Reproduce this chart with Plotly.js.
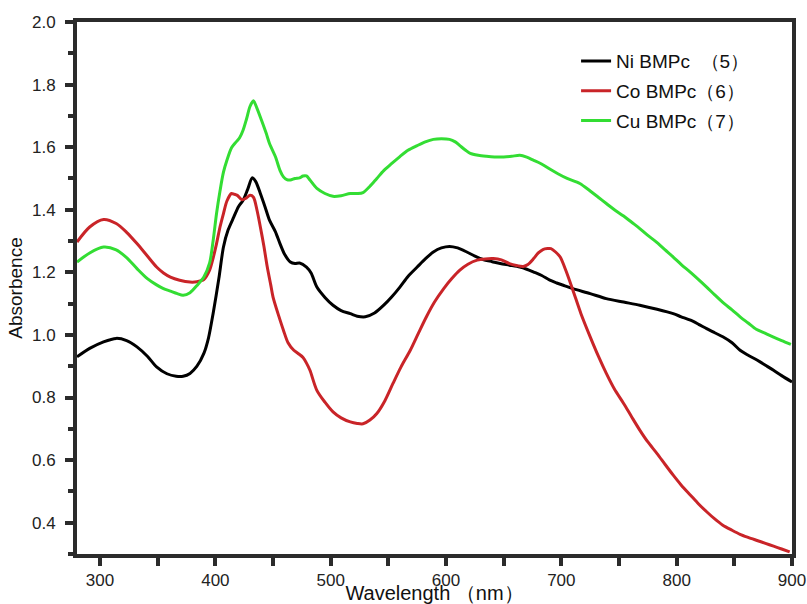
<!DOCTYPE html>
<html>
<head>
<meta charset="utf-8">
<script src="https://cdn.plot.ly/plotly-3.0.1.min.js"></script>
<style>
html,body{margin:0;padding:0;background:#fff;}
#chart{width:807px;height:604px;}
</style>
</head>
<body>
<div id="chart"></div>
<script>
// Wavelength (nm) and absorbance
const niX = [280, 291, 303, 314, 323, 332, 341, 349, 358, 366, 372, 378, 384, 390, 394, 398, 403, 407, 411, 416, 420, 424, 428, 432, 435, 439, 443, 447, 452, 456, 460, 465, 469, 473, 479, 483, 488, 495, 502, 509, 517, 523, 530, 538, 546, 553, 560, 567, 575, 582, 589, 596, 603, 610, 618, 625, 632, 640, 647, 655, 664, 670, 676, 683, 690, 696, 703, 710, 725, 739, 754, 768, 783, 797, 804, 812, 819, 826, 833, 840, 848, 855, 862, 870, 877, 884, 891, 900];
const niY = [0.930, 0.957, 0.978, 0.989, 0.982, 0.962, 0.932, 0.898, 0.876, 0.868, 0.868, 0.877, 0.900, 0.941, 0.990, 1.068, 1.180, 1.281, 1.335, 1.377, 1.410, 1.430, 1.465, 1.502, 1.490, 1.452, 1.410, 1.366, 1.330, 1.292, 1.258, 1.233, 1.228, 1.230, 1.217, 1.198, 1.153, 1.120, 1.095, 1.078, 1.068, 1.060, 1.058, 1.070, 1.095, 1.122, 1.153, 1.187, 1.217, 1.243, 1.265, 1.278, 1.283, 1.278, 1.265, 1.252, 1.241, 1.234, 1.228, 1.223, 1.217, 1.210, 1.201, 1.190, 1.175, 1.166, 1.157, 1.148, 1.132, 1.116, 1.105, 1.095, 1.082, 1.068, 1.058, 1.047, 1.034, 1.020, 1.007, 0.994, 0.975, 0.951, 0.935, 0.919, 0.903, 0.887, 0.870, 0.850];

const coX = [280, 291, 303, 314, 323, 332, 341, 349, 355, 361, 369, 378, 384, 390, 395, 398, 401, 404, 407, 410, 414, 416, 419, 423, 427, 430, 433, 436, 439, 442, 445, 448, 450, 455, 459, 463, 468, 472, 476, 479, 482, 488, 495, 502, 509, 517, 523, 528, 534, 540, 547, 554, 561, 569, 576, 583, 590, 598, 605, 612, 619, 627, 634, 641, 648, 655, 661, 667, 671, 676, 680, 684, 688, 691, 695, 699, 704, 710, 717, 725, 732, 739, 746, 754, 761, 768, 775, 783, 790, 797, 804, 812, 819, 826, 833, 840, 848, 855, 862, 869, 877, 884, 891, 898];
const coY = [1.297, 1.345, 1.369, 1.356, 1.328, 1.292, 1.252, 1.217, 1.198, 1.185, 1.175, 1.169, 1.170, 1.177, 1.207, 1.245, 1.292, 1.345, 1.388, 1.428, 1.452, 1.450, 1.446, 1.432, 1.438, 1.446, 1.440, 1.400, 1.345, 1.285, 1.217, 1.160, 1.121, 1.060, 1.015, 0.975, 0.951, 0.940, 0.928, 0.910, 0.887, 0.823, 0.785, 0.754, 0.735, 0.722, 0.717, 0.716, 0.728, 0.749, 0.790, 0.845, 0.898, 0.951, 1.005, 1.058, 1.105, 1.148, 1.180, 1.207, 1.226, 1.239, 1.243, 1.244, 1.240, 1.228, 1.222, 1.219, 1.225, 1.244, 1.262, 1.273, 1.276, 1.276, 1.265, 1.249, 1.205, 1.143, 1.068, 0.994, 0.933, 0.877, 0.827, 0.781, 0.738, 0.696, 0.658, 0.621, 0.586, 0.552, 0.520, 0.488, 0.460, 0.435, 0.412, 0.392, 0.376, 0.363, 0.353, 0.344, 0.334, 0.325, 0.316, 0.307];

const cuX = [280, 291, 303, 314, 323, 332, 341, 349, 355, 361, 367, 372, 378, 384, 390, 395, 398, 401, 404, 407, 410, 414, 418, 421, 424, 427, 430, 433, 436, 440, 444, 447, 452, 456, 459, 462, 465, 469, 473, 476, 479, 482, 488, 495, 502, 509, 517, 523, 528, 534, 540, 546, 553, 560, 567, 575, 582, 589, 596, 603, 608, 612, 617, 621, 628, 635, 642, 650, 657, 664, 670, 676, 682, 690, 697, 705, 716, 725, 732, 739, 746, 754, 761, 768, 775, 783, 790, 797, 804, 812, 819, 826, 833, 840, 848, 855, 862, 869, 877, 884, 891, 899];
const cuY = [1.233, 1.262, 1.281, 1.272, 1.247, 1.212, 1.180, 1.160, 1.148, 1.140, 1.132, 1.127, 1.135, 1.158, 1.185, 1.230, 1.300, 1.388, 1.460, 1.520, 1.558, 1.598, 1.617, 1.630, 1.654, 1.690, 1.730, 1.748, 1.725, 1.686, 1.645, 1.611, 1.570, 1.526, 1.505, 1.496, 1.495, 1.500, 1.502, 1.508, 1.508, 1.495, 1.468, 1.452, 1.443, 1.445, 1.452, 1.452, 1.455, 1.475, 1.500, 1.525, 1.548, 1.570, 1.590, 1.605, 1.617, 1.625, 1.627, 1.625, 1.617, 1.605, 1.590, 1.580, 1.574, 1.571, 1.569, 1.569, 1.571, 1.574, 1.568, 1.558, 1.548, 1.530, 1.515, 1.500, 1.484, 1.460, 1.440, 1.420, 1.400, 1.380, 1.360, 1.340, 1.318, 1.295, 1.272, 1.249, 1.225, 1.200, 1.177, 1.153, 1.128, 1.104, 1.080, 1.058, 1.038, 1.018, 1.005, 0.993, 0.982, 0.970];

const seriesNames = ['Ni BMPc \u00a0\uff085\uff09', 'Co BMPc\uff086\uff09', 'Cu BMPc\uff087\uff09'];
const seriesColors = ['#000000', '#c92428', '#33dd33'];

// x tick positions (major labelled, minor blank)
const xTickVals = [300, 350, 400, 450, 500, 550, 600, 650, 700, 750, 800, 850, 900];
const xTickText = ['300', '', '400', '', '500', '', '600', '', '700', '', '800', '', '900'];

const xTitle = 'Wavelength \uff08nm\uff09';
const yTitle = 'Absorbence';

const FONT = 'Arial, "Liberation Sans", sans-serif';
const AXC = '#2b2b2b';

const traces = [
  {x: niX, y: niY, name: seriesNames[0], color: seriesColors[0], g: 'a'},
  {x: coX, y: coY, name: seriesNames[1], color: seriesColors[1], g: 'b'},
  {x: cuX, y: cuY, name: seriesNames[2], color: seriesColors[2], g: 'c'}
].map(s => ({
  x: s.x, y: s.y, name: s.name, type: 'scatter', mode: 'lines', legendgroup: s.g,
  line: {color: s.color, width: 3, shape: 'spline', smoothing: 0.8}
}));

const layout = {
  width: 807, height: 604,
  margin: {l: 77, r: 15, t: 22, b: 50},
  paper_bgcolor: '#ffffff', plot_bgcolor: '#ffffff',
  showlegend: true,
  legend: {
    x: 0.698, y: 0.962, xanchor: 'left', yanchor: 'top',
    bgcolor: 'rgba(0,0,0,0)', borderwidth: 0,
    font: {family: FONT, size: 19, color: '#111111'},
    traceorder: 'grouped', tracegroupgap: 2
  },
  xaxis: {
    range: [280, 900], tickmode: 'array', tickvals: xTickVals, ticktext: xTickText,
    showline: true, linecolor: AXC, linewidth: 4, mirror: true,
    ticks: 'outside', ticklen: 8, tickwidth: 4, tickcolor: AXC,
    showgrid: false, zeroline: false, ticklabeloverflow: 'allow',
    tickfont: {family: FONT, size: 17, color: '#222222'},
    title: {text: xTitle, standoff: 12, font: {family: FONT, size: 20, color: '#111111'}}
  },
  yaxis: {
    range: [0.3, 2.0], tickmode: 'linear', tick0: 0.4, dtick: 0.2, tickformat: '.1f',
    showline: true, linecolor: AXC, linewidth: 4, mirror: true,
    ticks: 'outside', ticklen: 8, tickwidth: 4, tickcolor: AXC,
    showgrid: false, zeroline: false, ticklabelstandoff: 6,
    tickfont: {family: FONT, size: 17, color: '#222222'},
    minor: {dtick: 0.1, ticks: 'outside', ticklen: 5, tickwidth: 4, tickcolor: AXC},
    title: {text: yTitle, standoff: 5, font: {family: FONT, size: 19, color: '#111111'}}
  }
};

Plotly.newPlot('chart', traces, layout, {displayModeBar: false});
</script>
</body>
</html>
